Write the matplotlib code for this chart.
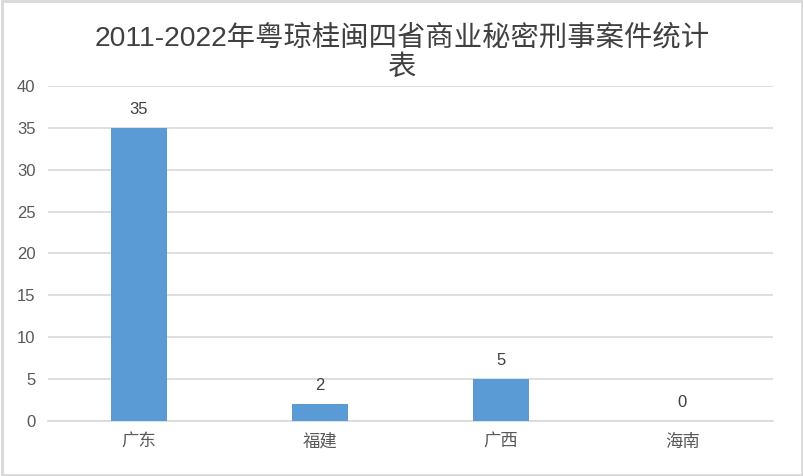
import matplotlib.pyplot as plt

plt.rcParams['font.family'] = ['Liberation Sans', 'Noto Sans CJK SC', 'DejaVu Sans']

provinces = ['广东', '福建', '广西', '海南']
cases = [35, 2, 5, 0]
yticks = [0, 5, 10, 15, 20, 25, 30, 35, 40]

fig = plt.figure(figsize=(8.04, 4.76), dpi=100)
ax = fig.add_axes([48 / 804, 1 - 421 / 476, 725 / 804, 335 / 476])

x = range(len(provinces))
bars = ax.bar(x, cases, width=0.31, color='#5B9BD5', zorder=3)
for b, v in zip(bars, cases):
    ax.text(b.get_x() + b.get_width() / 2, v + 1.3, str(v),
            ha='center', va='bottom', fontsize=12, color='#404040')

ax.set_xlim(-0.5, len(provinces) - 0.5)
ax.set_ylim(0, 40)
ax.set_yticks(yticks)
ax.set_xticks(list(x))
ax.set_xticklabels(provinces, fontsize=12.5, color='#7F7F7F')
ax.tick_params(axis='both', length=0, colors='#595959')
ax.tick_params(axis='y', labelsize=12, pad=9)
ax.tick_params(axis='x', pad=9)
ax.grid(axis='y', color='#D9D9D9', linewidth=1.2, zorder=0)
for s in ['top', 'right', 'left']:
    ax.spines[s].set_visible(False)
ax.spines['bottom'].set_color('#D9D9D9')
ax.spines['bottom'].set_linewidth(1.2)

fig.text(0.5, 1 - 38 / 476, '2011-2022年粤琼桂闽四省商业秘密刑事案件统计',
         fontsize=20.4, color='#404040', ha='center', va='center')
fig.text(0.5, 1 - 68 / 476, '表', fontsize=20.4, color='#404040', ha='center', va='center')

# light border round the figure
fig.patches.append(plt.Rectangle((0.002, 0.003), 0.996, 0.995, transform=fig.transFigure,
                                 fill=False, edgecolor='#D9D9D9', linewidth=2))

fig.savefig('out.png', dpi=100)
